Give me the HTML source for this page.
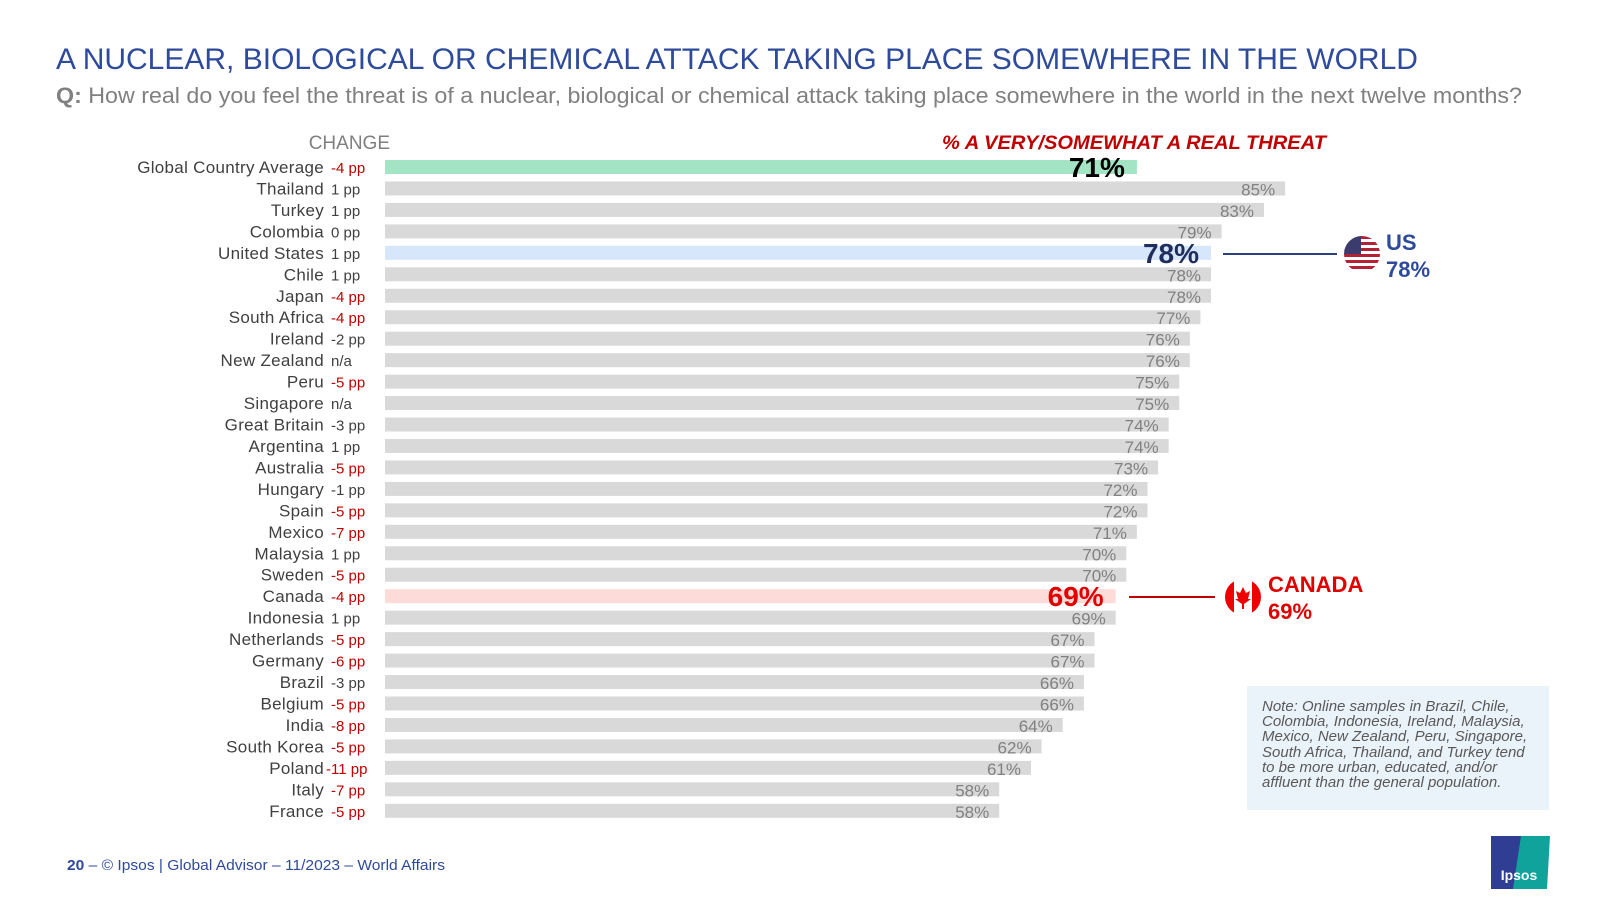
<!DOCTYPE html>
<html><head><meta charset="utf-8">
<style>
body{margin:0;width:1600px;height:900px;background:#fff;font-family:"Liberation Sans",sans-serif;overflow:hidden;position:relative}
svg{position:absolute;left:0;top:0}
</style></head>
<body>
<svg id="chart" width="1600" height="900">
<text x="56" y="69" font-size="30" fill="#2e4a9b">A NUCLEAR, BIOLOGICAL OR CHEMICAL ATTACK TAKING PLACE SOMEWHERE IN THE WORLD</text>
<text x="56" y="103" font-size="22" fill="#808080" textLength="1466" lengthAdjust="spacingAndGlyphs"><tspan font-weight="bold">Q:</tspan> How real do you feel the threat is of a nuclear, biological or chemical attack taking place somewhere in the world in the next twelve months?</text>
<text x="390" y="149" font-size="19" fill="#7f7f7f" text-anchor="end">CHANGE</text>
<text x="1326" y="149" font-size="19" fill="#c00000" font-weight="bold" font-style="italic" text-anchor="end" textLength="384" lengthAdjust="spacingAndGlyphs">% A VERY/SOMEWHAT A REAL THREAT</text>
<g id="bars"></g>
<g>
<line x1="1223" y1="254" x2="1337" y2="254" stroke="#2e3f7f" stroke-width="2"/>
<clipPath id="usc"><circle cx="1362" cy="254" r="18"/></clipPath>
<g clip-path="url(#usc)">
<rect x="1344" y="236" width="36" height="36" fill="#fff"/>
<rect x="1344" y="236" width="36" height="3" fill="#b22234"/><rect x="1344" y="242" width="36" height="3" fill="#b22234"/><rect x="1344" y="248" width="36" height="3" fill="#b22234"/><rect x="1344" y="254" width="36" height="3" fill="#b22234"/><rect x="1344" y="260" width="36" height="3" fill="#b22234"/><rect x="1344" y="266" width="36" height="3" fill="#b22234"/>
<rect x="1344" y="236" width="17" height="18" fill="#3c3b6e"/>
</g>
<text x="1386" y="250" font-size="22" font-weight="bold" fill="#2e4a9b">US</text>
<text x="1386" y="277" font-size="22" font-weight="bold" fill="#2e4a9b">78%</text>
</g>
<g>
<line x1="1129" y1="597" x2="1215" y2="597" stroke="#c00000" stroke-width="2"/>
<clipPath id="cac"><circle cx="1243" cy="597" r="18"/></clipPath>
<g clip-path="url(#cac)">
<rect x="1225" y="579" width="36" height="36" fill="#fff"/>
<rect x="1225" y="579" width="9" height="36" fill="#e00"/><rect x="1252" y="579" width="9" height="36" fill="#e00"/>
<path d="M1243 587 L1246 593 L1250 591 L1248 599 L1251 599 L1244 604 L1244 609 L1242 609 L1242 604 L1235 599 L1238 599 L1236 591 L1240 593 Z" fill="#e00"/>
</g>
<text x="1268" y="592" font-size="22" font-weight="bold" fill="#e00000">CANADA</text>
<text x="1268" y="619" font-size="22" font-weight="bold" fill="#e00000">69%</text>
</g>
<g>
<rect x="1247" y="686" width="302" height="124" fill="#eaf3fa"/>
<text font-size="15" font-style="italic" fill="#595959">
<tspan x="1262" y="711">Note: Online samples in Brazil, Chile,</tspan>
<tspan x="1262" y="726">Colombia, Indonesia, Ireland, Malaysia,</tspan>
<tspan x="1262" y="741">Mexico, New Zealand, Peru, Singapore,</tspan>
<tspan x="1262" y="757">South Africa, Thailand, and Turkey tend</tspan>
<tspan x="1262" y="772">to be more urban, educated, and/or</tspan>
<tspan x="1262" y="787">affluent than the general population.</tspan>
</text>
</g>
<text x="67" y="870" font-size="15" fill="#2e4a9b" textLength="378" lengthAdjust="spacingAndGlyphs"><tspan font-weight="bold">20</tspan> –   © Ipsos | Global Advisor – 11/2023 – World Affairs</text>
<g>
<rect x="1491" y="836" width="30" height="53" fill="#2f3e93"/>
<path d="M1521 836 L1550 836 L1547 889 L1513 889 Z" fill="#0fa39b"/>
<text x="1519" y="880" font-size="14" font-weight="bold" fill="#fff" text-anchor="middle">Ipsos</text>
</g>
</svg>
<script>
const countries=["Global Country Average","Thailand","Turkey","Colombia","United States","Chile","Japan","South Africa","Ireland","New Zealand","Peru","Singapore","Great Britain","Argentina","Australia","Hungary","Spain","Mexico","Malaysia","Sweden","Canada","Indonesia","Netherlands","Germany","Brazil","Belgium","India","South Korea","Poland","Italy","France"];
const values=[71,85,83,79,78,78,78,77,76,76,75,75,74,74,73,72,72,71,70,70,69,69,67,67,66,66,64,62,61,58,58];
const changes=["-4 pp","1 pp","1 pp","0 pp","1 pp","1 pp","-4 pp","-4 pp","-2 pp","n/a","-5 pp","n/a","-3 pp","1 pp","-5 pp","-1 pp","-5 pp","-7 pp","1 pp","-5 pp","-4 pp","1 pp","-5 pp","-6 pp","-3 pp","-5 pp","-8 pp","-5 pp","-11 pp","-7 pp","-5 pp"];
const significant=[1,0,0,0,0,0,1,1,0,0,1,0,0,0,1,0,1,1,0,1,1,0,1,1,0,1,1,1,1,1,1];
const x0=385, k=10.59, y0=160, step=21.46, bh=14;
const xs=v=>x0+v*k;
const ys=i=>y0+i*step;
const g=document.getElementById('bars');
const NS="http://www.w3.org/2000/svg";
function mk(t,a){const e=document.createElementNS(NS,t);for(const n in a)e.setAttribute(n,a[n]);return e;}
countries.forEach((c,i)=>{
  const v=values[i], y=ys(i);
  let fill="#d9d9d9";
  if(i===0)fill="#a3e4c4";
  else if(c==="United States")fill="#d6e6fb";
  else if(c==="Canada")fill="#fddbd8";
  const r=mk('rect',{x:x0,y:y,width:xs(v)-x0,height:bh,fill:fill});
  
  
  g.appendChild(r);
  const l=mk('text',{x:324,y:y+13,'font-size':17,fill:'#404040','text-anchor':'end','letter-spacing':'0.3'});
  l.textContent=c;
  
  
  g.appendChild(l);
  const ch=mk('text',{x:331,y:y+13,'font-size':15,fill:significant[i]?'#c00000':'#404040'});
  if(changes[i].length>5)ch.setAttribute('x',326);
  ch.textContent=changes[i];
  
  
  g.appendChild(ch);
  let vt;
  if(i===0||c==="United States"||c==="Canada"){
    const col=i===0?'#000':(c==="Canada"?'#e00000':'#1f2d5c');
    vt=mk('text',{x:xs(v)-12,y:y+17,'font-size':28,'font-weight':'bold',fill:col,'text-anchor':'end'});
  } else {
    vt=mk('text',{x:xs(v)-10,y:y+14,'font-size':17,fill:'#808080','text-anchor':'end'});
  }
  vt.textContent=v+'%';
  
  
  g.appendChild(vt);
});
</script>
</body></html>
